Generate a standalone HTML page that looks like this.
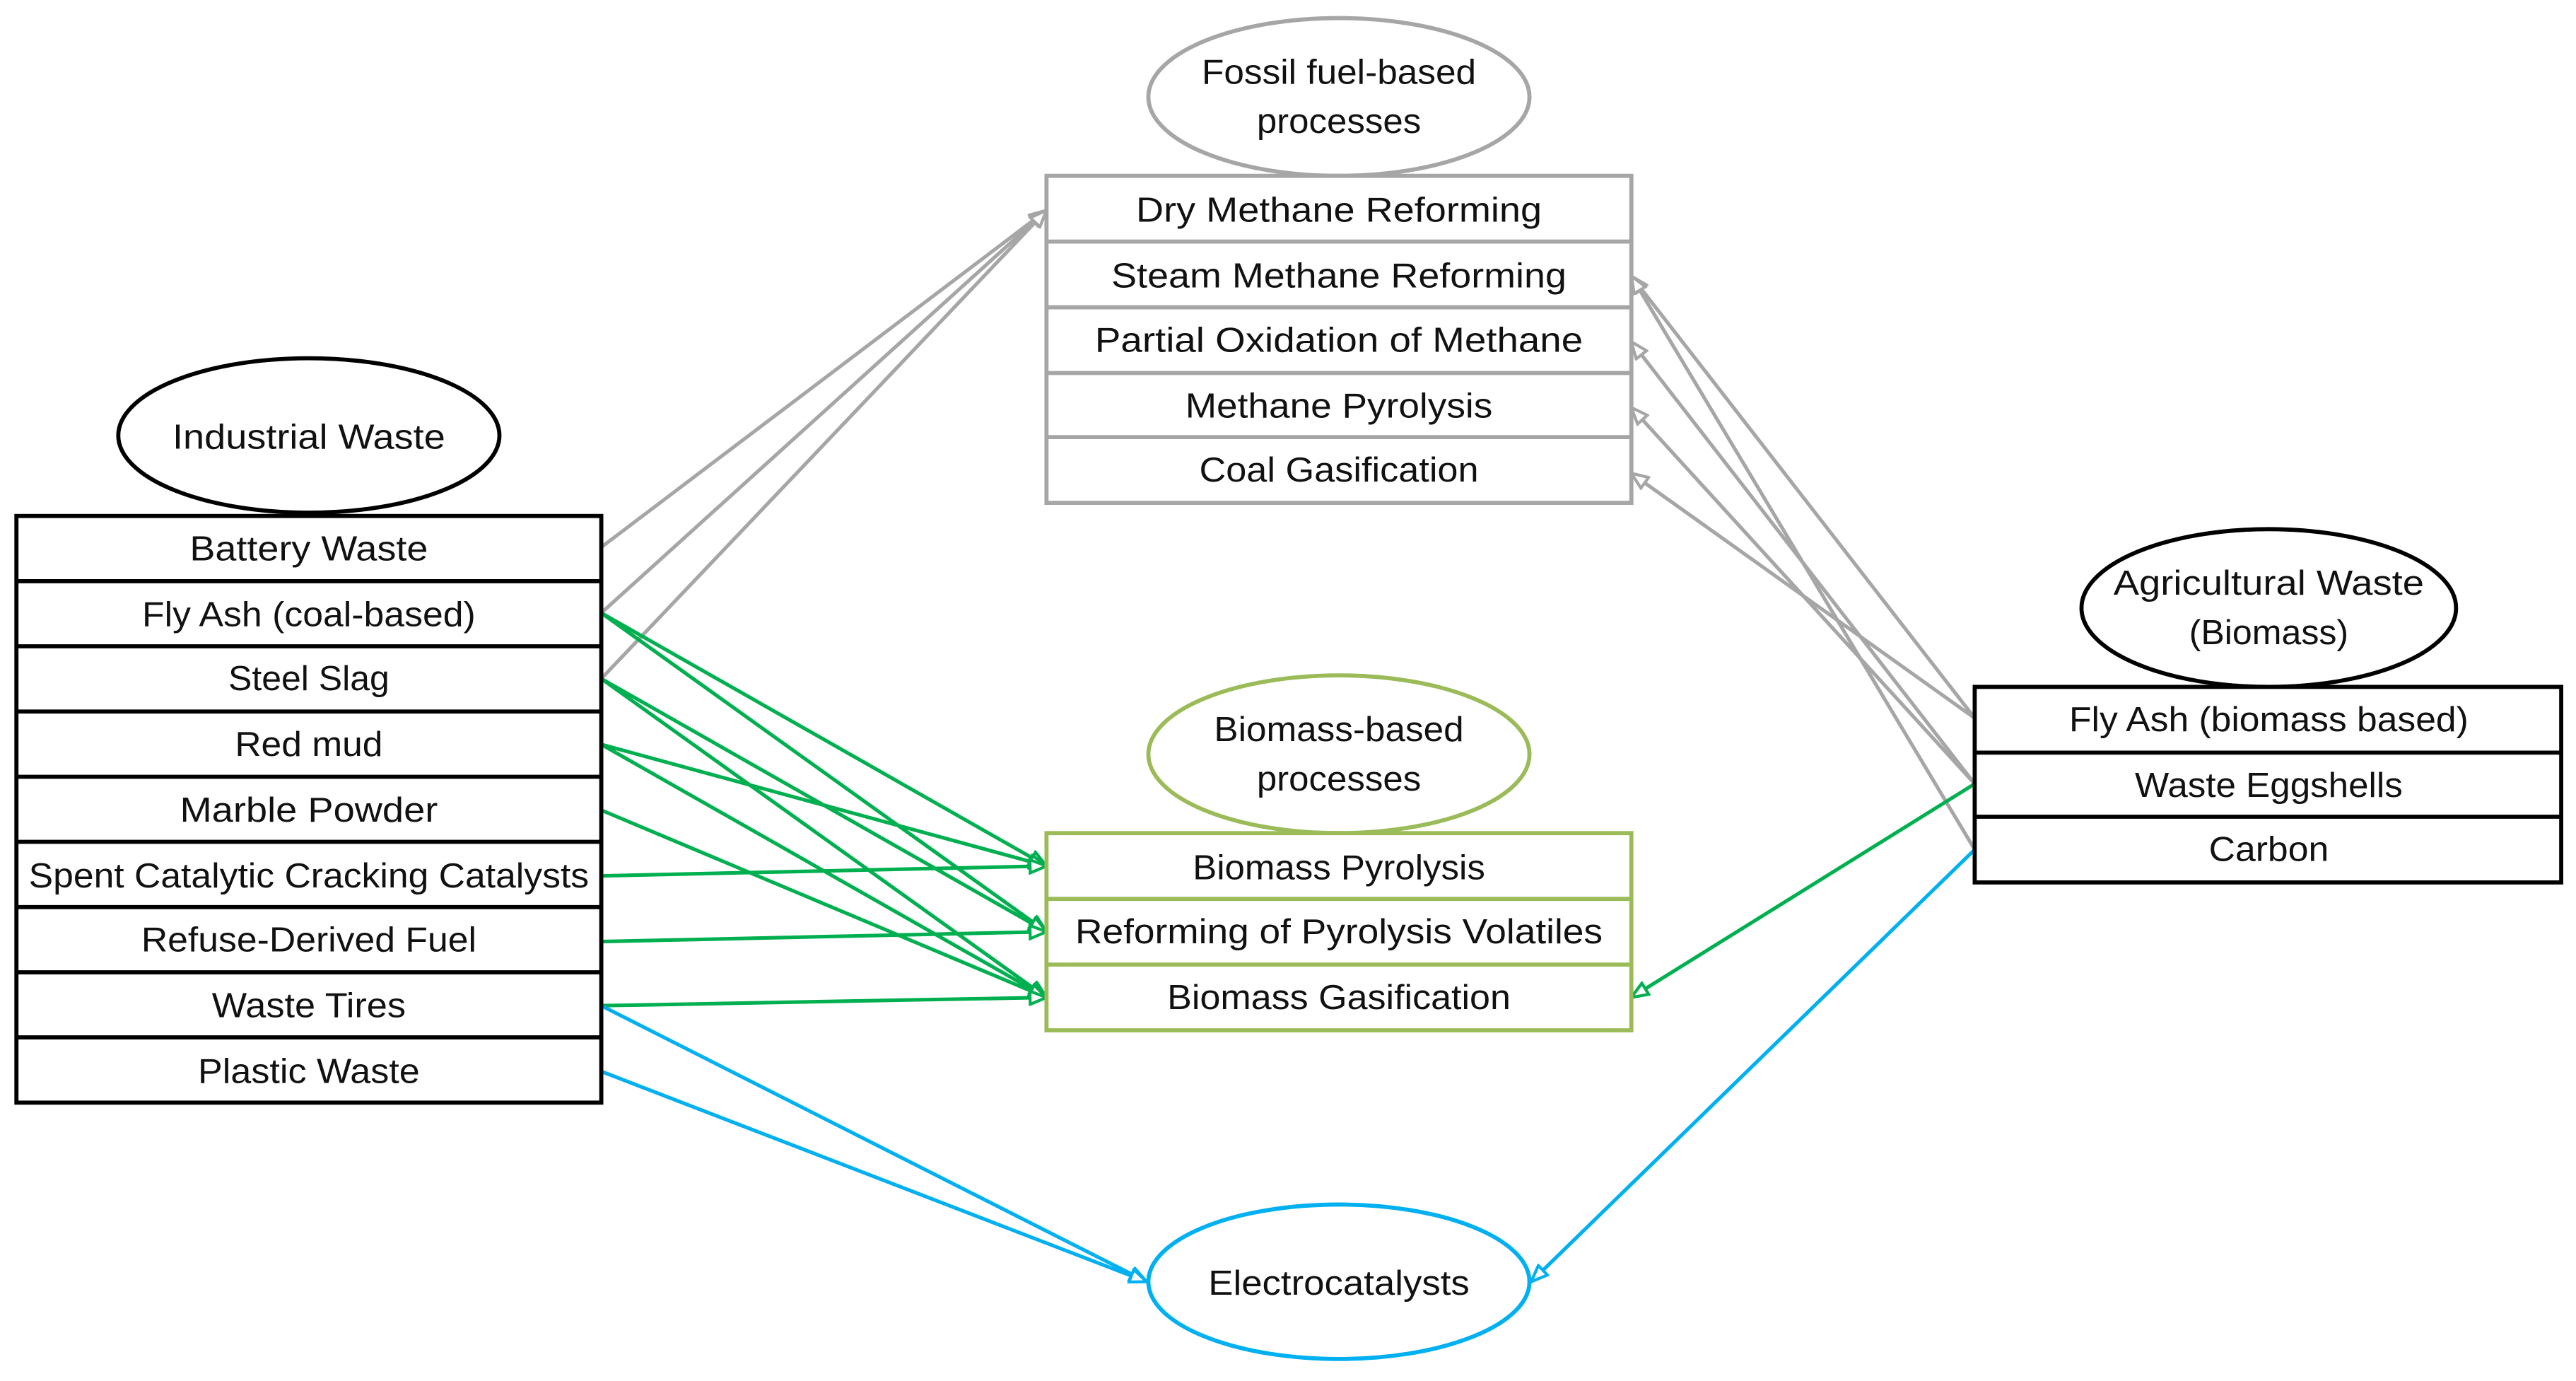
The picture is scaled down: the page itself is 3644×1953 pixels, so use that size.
<!DOCTYPE html>
<html><head><meta charset="utf-8"><style>
html,body{margin:0;padding:0;background:#fff;}
svg{display:block;}
text{font-family:"Liberation Sans",sans-serif;font-size:21px;fill:#111;text-anchor:middle;}
</style></head><body>
<svg width="3644" height="1953" viewBox="0 0 1568 840.4" preserveAspectRatio="none" xmlns="http://www.w3.org/2000/svg">
<defs>
<marker id="ag" viewBox="0 0 12 10" refX="11" refY="5" markerWidth="12" markerHeight="10" markerUnits="userSpaceOnUse" orient="auto"><path d="M1,1 L11,5 L1,9 Z" fill="#fff" stroke="#a6a6a6" stroke-width="1.8"/></marker>
<marker id="agr" viewBox="0 0 12 10" refX="11" refY="5" markerWidth="12" markerHeight="10" markerUnits="userSpaceOnUse" orient="auto"><path d="M1,1 L11,5 L1,9 Z" fill="#fff" stroke="#00b050" stroke-width="1.8"/></marker>
<marker id="ab" viewBox="0 0 12 10" refX="11" refY="5" markerWidth="12" markerHeight="10" markerUnits="userSpaceOnUse" orient="auto"><path d="M1,1 L11,5 L1,9 Z" fill="#fff" stroke="#00b0f0" stroke-width="1.8"/></marker>
</defs>

<g stroke="#a6a6a6" stroke-width="2.2" fill="none" marker-end="url(#ag)">
<line x1="366" y1="333" x2="637" y2="128"/>
<line x1="366" y1="373" x2="637" y2="128"/>
<line x1="366" y1="413" x2="637" y2="128"/>
<line x1="1202" y1="437" x2="993" y2="168"/>
<line x1="1202" y1="437" x2="993" y2="288"/>
<line x1="1202" y1="477" x2="993" y2="208"/>
<line x1="1202" y1="477" x2="993" y2="248"/>
<line x1="1202" y1="517" x2="993" y2="168"/>
</g>
<g stroke="#00b050" stroke-width="2.2" fill="none" marker-end="url(#agr)">
<line x1="366" y1="373" x2="637" y2="527"/>
<line x1="366" y1="373" x2="637" y2="567"/>
<line x1="366" y1="413" x2="637" y2="567"/>
<line x1="366" y1="413" x2="637" y2="607"/>
<line x1="366" y1="453" x2="637" y2="527"/>
<line x1="366" y1="453" x2="637" y2="607"/>
<line x1="366" y1="493" x2="637" y2="607"/>
<line x1="366" y1="533" x2="637" y2="527"/>
<line x1="366" y1="573" x2="637" y2="567"/>
<line x1="366" y1="612" x2="637" y2="607"/>
<line x1="1202" y1="477" x2="993" y2="607"/>
</g>
<g stroke="#00b0f0" stroke-width="2.2" fill="none" marker-end="url(#ab)">
<line x1="366" y1="612" x2="698" y2="780"/>
<line x1="366" y1="652" x2="698" y2="780"/>
<line x1="1202" y1="517" x2="932" y2="780"/>
</g>

<ellipse cx="188" cy="265" rx="116" ry="47" fill="#fff" stroke="#000" stroke-width="2.5"/>
<text x="188" y="273" textLength="166" lengthAdjust="spacingAndGlyphs">Industrial Waste</text>
<g stroke="#000" stroke-width="2.5" fill="#fff">
<rect x="10" y="314" width="356" height="357"/>
<line x1="10" y1="353.7" x2="366" y2="353.7"/><line x1="10" y1="393.3" x2="366" y2="393.3"/>
<line x1="10" y1="433" x2="366" y2="433"/><line x1="10" y1="472.7" x2="366" y2="472.7"/>
<line x1="10" y1="512.3" x2="366" y2="512.3"/><line x1="10" y1="552" x2="366" y2="552"/>
<line x1="10" y1="591.7" x2="366" y2="591.7"/><line x1="10" y1="631.3" x2="366" y2="631.3"/>
</g>
<text x="188" y="341" textLength="145" lengthAdjust="spacingAndGlyphs">Battery Waste</text>
<text x="188" y="381" textLength="203" lengthAdjust="spacingAndGlyphs">Fly Ash (coal-based)</text>
<text x="188" y="420" textLength="98" lengthAdjust="spacingAndGlyphs">Steel Slag</text>
<text x="188" y="460" textLength="90" lengthAdjust="spacingAndGlyphs">Red mud</text>
<text x="188" y="500" textLength="157" lengthAdjust="spacingAndGlyphs">Marble Powder</text>
<text x="188" y="540" textLength="341" lengthAdjust="spacingAndGlyphs">Spent Catalytic Cracking Catalysts</text>
<text x="188" y="579" textLength="204" lengthAdjust="spacingAndGlyphs">Refuse-Derived Fuel</text>
<text x="188" y="619" textLength="118" lengthAdjust="spacingAndGlyphs">Waste Tires</text>
<text x="188" y="659" textLength="135" lengthAdjust="spacingAndGlyphs">Plastic Waste</text>

<ellipse cx="815" cy="59" rx="116" ry="48" fill="#fff" stroke="#a6a6a6" stroke-width="2.5"/>
<text x="815" y="51" textLength="167" lengthAdjust="spacingAndGlyphs">Fossil fuel-based</text>
<text x="815" y="81" textLength="100" lengthAdjust="spacingAndGlyphs">processes</text>
<g stroke="#a6a6a6" stroke-width="2.5" fill="#fff">
<rect x="637" y="107" width="356" height="199"/>
<line x1="637" y1="147" x2="993" y2="147"/><line x1="637" y1="187" x2="993" y2="187"/>
<line x1="637" y1="227" x2="993" y2="227"/><line x1="637" y1="266" x2="993" y2="266"/>
</g>
<text x="815" y="135" textLength="247" lengthAdjust="spacingAndGlyphs">Dry Methane Reforming</text>
<text x="815" y="175" textLength="277" lengthAdjust="spacingAndGlyphs">Steam Methane Reforming</text>
<text x="815" y="214" textLength="297" lengthAdjust="spacingAndGlyphs">Partial Oxidation of Methane</text>
<text x="815" y="254" textLength="187" lengthAdjust="spacingAndGlyphs">Methane Pyrolysis</text>
<text x="815" y="293" textLength="170" lengthAdjust="spacingAndGlyphs">Coal Gasification</text>

<ellipse cx="815" cy="459" rx="116" ry="48" fill="#fff" stroke="#9bbb59" stroke-width="2.5"/>
<text x="815" y="451" textLength="152" lengthAdjust="spacingAndGlyphs">Biomass-based</text>
<text x="815" y="481" textLength="100" lengthAdjust="spacingAndGlyphs">processes</text>
<g stroke="#9bbb59" stroke-width="2.5" fill="#fff">
<rect x="637" y="507" width="356" height="120"/>
<line x1="637" y1="547" x2="993" y2="547"/><line x1="637" y1="587" x2="993" y2="587"/>
</g>
<text x="815" y="535" textLength="178" lengthAdjust="spacingAndGlyphs">Biomass Pyrolysis</text>
<text x="815" y="574" textLength="321" lengthAdjust="spacingAndGlyphs">Reforming of Pyrolysis Volatiles</text>
<text x="815" y="614" textLength="209" lengthAdjust="spacingAndGlyphs">Biomass Gasification</text>

<ellipse cx="1381" cy="370" rx="114" ry="48" fill="#fff" stroke="#000" stroke-width="2.5"/>
<text x="1381" y="362" textLength="189" lengthAdjust="spacingAndGlyphs">Agricultural Waste</text>
<text x="1381" y="392" textLength="97" lengthAdjust="spacingAndGlyphs">(Biomass)</text>
<g stroke="#000" stroke-width="2.5" fill="#fff">
<rect x="1202" y="418" width="357" height="119"/>
<line x1="1202" y1="458" x2="1559" y2="458"/><line x1="1202" y1="497" x2="1559" y2="497"/>
</g>
<text x="1381" y="445" textLength="243" lengthAdjust="spacingAndGlyphs">Fly Ash (biomass based)</text>
<text x="1381" y="485" textLength="163" lengthAdjust="spacingAndGlyphs">Waste Eggshells</text>
<text x="1381" y="524" textLength="73" lengthAdjust="spacingAndGlyphs">Carbon</text>

<ellipse cx="815" cy="780" rx="116" ry="47" fill="#fff" stroke="#00b0f0" stroke-width="2.5"/>
<text x="815" y="788" textLength="159" lengthAdjust="spacingAndGlyphs">Electrocatalysts</text>
</svg>
</body></html>
